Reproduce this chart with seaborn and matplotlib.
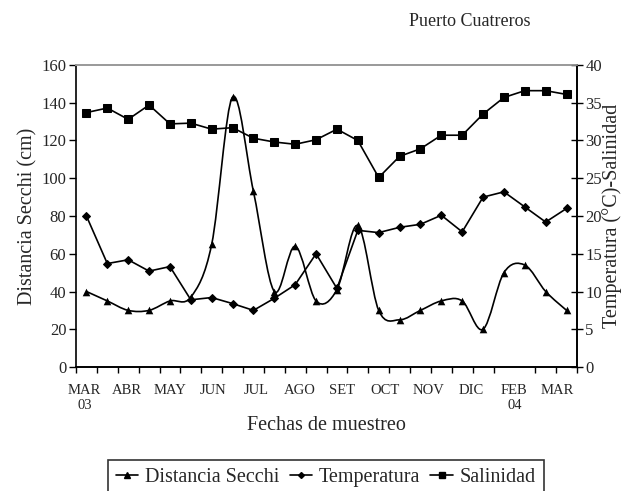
import numpy as np
import pandas as pd
import matplotlib
matplotlib.use("Agg")
from matplotlib import pyplot as plt
from matplotlib.path import Path
from matplotlib.patches import PathPatch
from matplotlib.lines import Line2D
import seaborn as sb

month_labels = ["MAR\n03", "ABR", "MAY", "JUN", "JUL", "AGO", "SET",
                "OCT", "NOV", "DIC", "FEB\n04", "MAR"]
secchi = [40, 35, 30, 30, 35, 37, 65, 143, 93, 40, 64, 35,
          41, 75, 30, 25, 30, 35, 35, 20, 50, 54, 40, 30]
temperatura = [20.0, 13.7, 14.2, 12.7, 13.3, 8.9, 9.2, 8.4, 7.5, 9.1, 10.9, 15.0,
               10.4, 18.1, 17.8, 18.5, 18.9, 20.1, 17.9, 22.5, 23.2, 21.2, 19.2, 21.0]
salinidad = [33.7, 34.3, 32.8, 34.7, 32.2, 32.3, 31.5, 31.7, 30.3, 29.8, 29.5, 30.1,
             31.5, 30.0, 25.1, 27.9, 28.9, 30.7, 30.7, 33.5, 35.7, 36.6, 36.6, 36.1]

n = len(secchi)
df = pd.DataFrame({"idx": np.arange(n), "secchi": secchi,
                   "temperatura": temperatura, "salinidad": salinidad})

sb.set_style("ticks")
plt.rcParams["font.family"] = ["Liberation Serif", "DejaVu Serif"]

fig = plt.figure(figsize=(6.29, 4.91), dpi=100)
ax = fig.add_axes([76 / 629, 1 - 367 / 491, 501 / 629, 302 / 491])
ax2 = ax.twinx()

# Secchi: markers via seaborn, smoothed line (Excel-style bezier) through the same points
sb.scatterplot(data=df, x="idx", y="secchi", ax=ax, marker="^", color="black",
               s=30, edgecolor="black", linewidth=0, zorder=3)
pts = df[["idx", "secchi"]].to_numpy(dtype=float)
verts = [tuple(pts[0])]
codes = [Path.MOVETO]
for i in range(n - 1):
    p0 = pts[max(i - 1, 0)]
    p1 = pts[i]
    p2 = pts[i + 1]
    p3 = pts[min(i + 2, n - 1)]
    verts += [tuple(p1 + (p2 - p0) / 6), tuple(p2 - (p3 - p1) / 6), tuple(p2)]
    codes += [Path.CURVE4] * 3
ax.add_patch(PathPatch(Path(verts, codes), facecolor="none", edgecolor="black",
                       linewidth=1.2, zorder=2))

# Temperature and salinity on the secondary axis
sb.lineplot(data=df, x="idx", y="temperatura", ax=ax2, color="black", marker="D",
            markersize=4, markeredgecolor="black", linewidth=1.2)
sb.lineplot(data=df, x="idx", y="salinidad", ax=ax2, color="black", marker="s",
            markersize=6, markeredgecolor="black", linewidth=1.2)

ax.set_xlim(-0.5, n - 0.5)
ax.set_ylim(0, 160)
ax2.set_ylim(0, 40)
ax.set_yticks(range(0, 161, 20))
ax2.set_yticks(range(0, 41, 5))

# category boundary tick marks, month labels every other sample
ax.set_xticks(np.arange(-0.5, n, 1.0), minor=True)
ax.set_xticks(np.arange(len(month_labels)) * 2.06 - 0.1)
ax.set_xticklabels(month_labels, fontsize=10.5, linespacing=1.2)
ax.tick_params(axis="x", which="major", length=0, pad=12)
ax.tick_params(axis="x", which="minor", length=4, width=1, direction="out", color="black")
ax.tick_params(axis="y", length=5, width=1, direction="out", labelsize=12, pad=2, color="black")
ax2.tick_params(axis="y", length=8, width=1, direction="inout", labelsize=12, pad=2, color="black")

for a in (ax, ax2):
    for side in ("left", "bottom", "right"):
        a.spines[side].set_color("black")
        a.spines[side].set_linewidth(1.2)
    a.spines["top"].set_color("#999999")
    a.spines["top"].set_linewidth(1.2)
ax2.spines["left"].set_visible(False)

ax.set_xlabel("Fechas de muestreo", fontsize=14.5, labelpad=3)
ax.set_ylabel("Distancia Secchi (cm)", fontsize=14.5, labelpad=3)
ax2.set_ylabel("Temperatura (°C)-Salinidad", fontsize=14.5, labelpad=0)

fig.text(470 / 629, 1 - 22 / 491, "Puerto Cuatreros", fontsize=13, ha="center", va="center")

handles = [Line2D([], [], color="black", lw=1.2, marker="^", markersize=5),
           Line2D([], [], color="black", lw=1.2, marker="D", markersize=3),
           Line2D([], [], color="black", lw=1.2, marker="s", markersize=4.5)]
leg = fig.legend(handles, ["Distancia Secchi", "Temperatura", "Salinidad"],
                 loc="upper center", bbox_to_anchor=(326 / 629, 1 - 460 / 491),
                 ncol=3, frameon=True, fancybox=False, fontsize=14.5,
                 handlelength=1.1, handletextpad=0.35, columnspacing=0.5,
                 borderpad=0.4, borderaxespad=0)
leg.get_frame().set_edgecolor("black")
leg.get_frame().set_linewidth(1.2)

fig.savefig("out.png", dpi=100)
